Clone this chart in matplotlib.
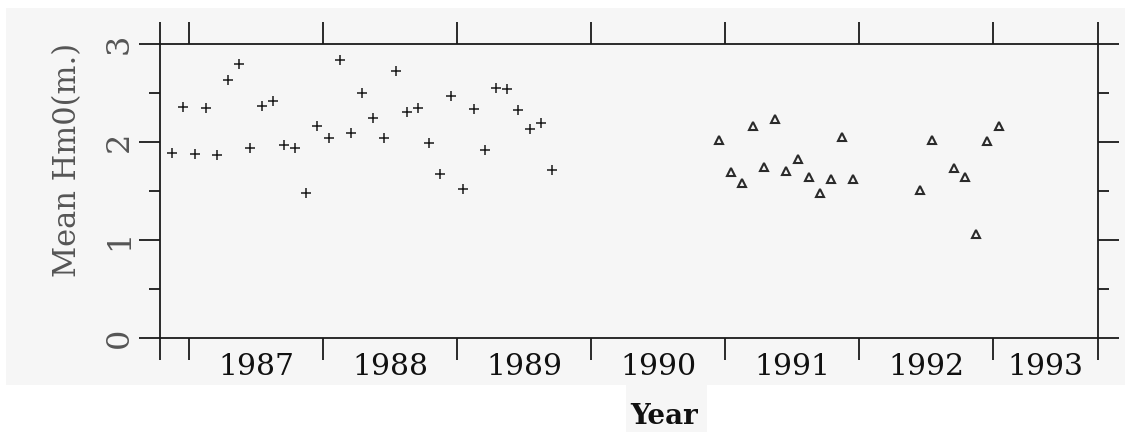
import matplotlib.pyplot as plt
from matplotlib.patches import Rectangle

# monthly mean Hm0, first instrument (+)
months_a = ["1986-11", "1986-12",
            "1987-01", "1987-02", "1987-03", "1987-04", "1987-05", "1987-06",
            "1987-07", "1987-08", "1987-09", "1987-10", "1987-11", "1987-12",
            "1988-01", "1988-02", "1988-03", "1988-04", "1988-05", "1988-06",
            "1988-07", "1988-08", "1988-09", "1988-10", "1988-11", "1988-12",
            "1989-01", "1989-02", "1989-03", "1989-04", "1989-05", "1989-06",
            "1989-07", "1989-08", "1989-09"]
hm0_a = [1.89, 2.36, 1.88, 2.35, 1.87, 2.64, 2.80, 1.94, 2.37, 2.42, 1.97, 1.94,
         1.48, 2.17, 2.04, 2.84, 2.09, 2.50, 2.25, 2.04, 2.73, 2.31, 2.35, 1.99,
         1.68, 2.47, 1.52, 2.34, 1.92, 2.55, 2.54, 2.33, 2.13, 2.20, 1.72]

# second instrument (triangles)
months_b = ["1990-12", "1991-01", "1991-02", "1991-03", "1991-04", "1991-05",
            "1991-06", "1991-07", "1991-08", "1991-09", "1991-10", "1991-11",
            "1991-12", "1992-06", "1992-07", "1992-09", "1992-10", "1992-11",
            "1992-12", "1993-01"]
hm0_b = [2.02, 1.70, 1.58, 2.17, 1.75, 2.24, 1.71, 1.83, 1.64, 1.48, 1.62, 2.05,
         1.62, 1.51, 2.02, 1.74, 1.64, 1.06, 2.01, 2.17]

years = [1987, 1988, 1989, 1990, 1991, 1992, 1993]
y_ticks = [0, 1, 2, 3]

BG = "#f6f6f6"
INK = "#1a1a1a"
W, H = 1125, 432
XMIN, XMAX = 1986.784, 1993.784


def to_decimal(m):
    y, mo = m.split("-")
    return int(y) + (int(mo) - 0.5) / 12.0


xa = [to_decimal(m) for m in months_a]
xb = [to_decimal(m) for m in months_b]

fig = plt.figure(figsize=(11.25, 4.32), dpi=100, facecolor="white")
# scanned page: grey paper with a white strip under it
fig.patches.append(Rectangle((6 / W, 1 - 385 / H), 1 - 6 / W, (385 - 8) / H,
                             transform=fig.transFigure, facecolor=BG,
                             edgecolor="none", zorder=-10))
fig.patches.append(Rectangle((626 / W, 0), (707 - 626) / W, 1 - 385 / H + 0.002,
                             transform=fig.transFigure, facecolor=BG,
                             edgecolor="none", zorder=-10))

ax = fig.add_axes([160 / W, 1 - 338 / H, (1098 - 160) / W, (338 - 44.3) / H])
ax.set_facecolor(BG)

ax.plot(xa, hm0_a, linestyle="none", marker="+", markersize=6.5,
        markeredgewidth=1.1, color=INK)
ax.plot(xb, hm0_b, linestyle="none", marker="^", markersize=5.2,
        markerfacecolor="none", markeredgecolor="#2a2a2a", markeredgewidth=1.5)

ax.set_xlim(XMIN, XMAX)
ax.set_ylim(0, 3)

for s in ax.spines.values():
    s.set_linewidth(1.3)
    s.set_color(INK)

# year boundaries as ticks, labels centred between them
ax.set_xticks([XMIN] + years + [XMAX])
ax.set_xticklabels([])
label_pos = [y + 0.5 for y in years[:-1]] + [(years[-1] + XMAX) / 2]
ax.set_xticks(label_pos, minor=True)
ax.set_xticklabels([str(y) for y in years], minor=True,
                   family="DejaVu Serif", fontsize=21.5, color="#111111")
ax.tick_params(axis="x", which="major", direction="out", length=16, width=1.3,
               color=INK, top=True, bottom=True)
ax.tick_params(axis="x", which="minor", length=0, pad=11)

ax.set_yticks(y_ticks)
ax.set_yticks([0.5, 1.5, 2.5], minor=True)
ax.set_yticklabels([str(v) for v in y_ticks], rotation=90, va="center",
                   family="DejaVu Serif", fontsize=23, color="#555555")
ax.tick_params(axis="y", which="major", direction="out", length=15, width=1.3,
               color=INK, left=True, right=True, pad=3)
ax.tick_params(axis="y", which="minor", direction="out", length=8, width=1.3,
               color=INK, left=True, right=True)

fig.text(68 / W, 1 - 160 / H, "Mean Hm0(m.)", rotation=90, ha="center",
         va="center", family="DejaVu Serif", fontsize=22, color="#555555")
fig.text(664 / W, 1 - 416 / H, "Year", ha="center", va="center",
         family="DejaVu Serif", fontsize=20, fontweight="bold", color="#111111")

fig.savefig("out.png", dpi=100, facecolor=fig.get_facecolor())
